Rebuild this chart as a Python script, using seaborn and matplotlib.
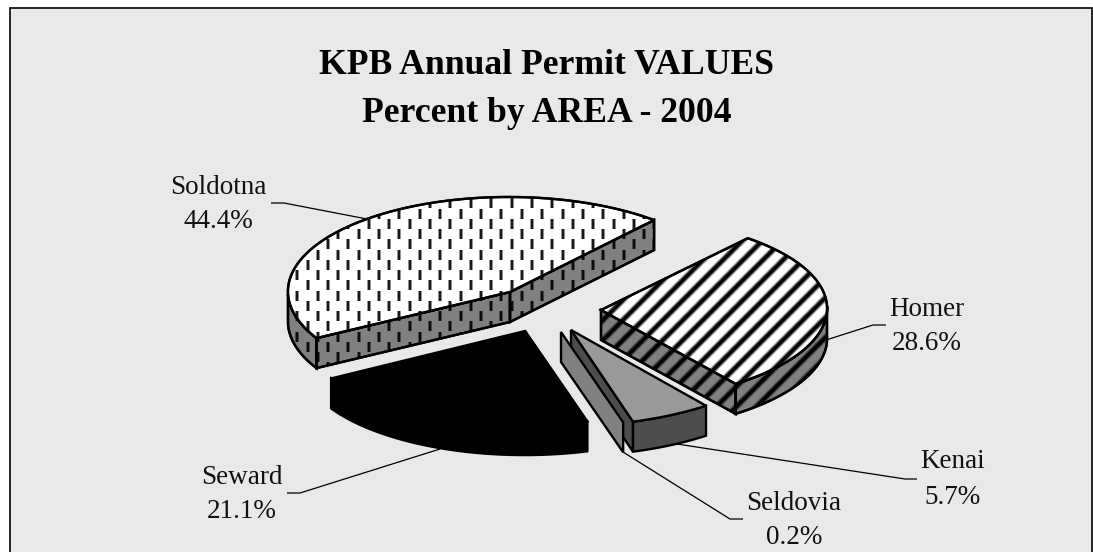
import numpy as np
import matplotlib
matplotlib.use("Agg")
import matplotlib.pyplot as plt
from matplotlib.patches import Polygon, Rectangle
from matplotlib.collections import LineCollection
import seaborn as sns

# ---- data ----
areas = ["Soldotna", "Seward", "Seldovia", "Kenai", "Homer"]
percents = [44.4, 21.1, 0.2, 5.7, 28.6]
title_lines = ["KPB Annual Permit VALUES", "Percent by AREA - 2004"]

sns.set_theme(style="white")
plt.rcParams["font.family"] = ["Liberation Serif", "DejaVu Serif"]

W, H = 1093, 552
fig = plt.figure(figsize=(W / 100, H / 100), dpi=100, facecolor="white")
ax = fig.add_axes([0, 0, 1, 1])
ax.set_xlim(0, W)
ax.set_ylim(H, 0)
ax.axis("off")

BG = "#E9E9E9"
ax.add_patch(Rectangle((9.5, 7.5), W - 10.2, H + 20, fc=BG, ec="black", lw=1.2, zorder=0))

# ---- projected pie geometry ----
START = 48.0
DEPTH = 30
LW = 1.7
MAT = {"Soldotna": (222, -6, -2, -95), "Seward": (224, -9, -4, -94), "Seldovia": (224, -9, -4, -94),
       "Kenai": (228, -5, -5, -96), "Homer": (226, -6, -4, -93)}
APEX = {"Soldotna": (510, 292), "Seward": (525, 331), "Seldovia": (561, 332),
        "Kenai": (571, 330), "Homer": (601, 310)}

total = sum(percents)
spans = {}
a0 = START
for name, v in zip(areas, percents):
    a1 = a0 + v / total * 360
    spans[name] = (a0, a1)
    a0 = a1


def rim(name, t0, t1, n=80):
    t = np.radians(np.linspace(t0, t1, n))
    A, B, C, D = MAT[name]
    ox, oy = APEX[name]
    return np.column_stack([ox + A * np.cos(t) + B * np.sin(t), oy + C * np.cos(t) + D * np.sin(t)])


def wall(pts, fc, z):
    poly = np.vstack([pts, (pts + np.array([0, DEPTH]))[::-1]])
    p = Polygon(poly, closed=True, fc=fc, ec="black", lw=LW, zorder=z, joinstyle="miter")
    ax.add_patch(p)
    return p


def face(name, fc, z):
    t0, t1 = spans[name]
    pts = np.vstack([[APEX[name]], rim(name, t0, t1)])
    p = Polygon(pts, closed=True, fc=fc, ec="black", lw=LW, zorder=z, joinstyle="miter")
    ax.add_patch(p)
    return p


def radial(name, t):
    return np.vstack([[APEX[name]], rim(name, t, t, 1)])


def texture(segs, layers, clip, z):
    for k, (px, alpha) in enumerate(layers):
        lc = LineCollection(segs, colors="black", alpha=alpha, linewidths=px * 0.72,
                            zorder=z + k * 0.01, capstyle="butt")
        ax.add_collection(lc)
        lc.set_clip_path(clip)


def dashes(clip, z):
    segs = []
    sx, sy = 10.2, 20.5
    for i in range(-3, 37):
        x = 297.3 + i * sx
        off = 0 if i % 2 == 0 else sy / 2
        for y in np.arange(167.5 + off, 385, sy):
            segs.append([(x, y), (x, y + 10.0)])
    texture(segs, [(3.8, 0.35), (2.4, 0.85)], clip, z)


def stripes(clip, z):
    step = 20.0
    segs = [[(c - 220, 220), (c - 440, 440)] for c in np.arange(983 - 12 * step, 983 + 18 * step, step)]
    texture(segs, [(7, 0.22), (5.5, 0.38), (4, 0.65), (2.8, 0.85)], clip, z)


def outline(patch, z):
    ax.add_patch(Polygon(patch.get_xy(), closed=True, fc="none", ec="black", lw=LW, zorder=z, joinstyle="miter"))


# Soldotna
t0, t1 = spans["Soldotna"]
z = 2
for pts in [rim("Soldotna", 180, t1), radial("Soldotna", t1), radial("Soldotna", t0)]:
    w = wall(pts, "#808080", z)
    dashes(w, z + 0.1)
    outline(w, z + 0.2)
f = face("Soldotna", "white", z + 0.3)
dashes(f, z + 0.4)
outline(f, z + 0.5)

# Homer
t0, t1 = spans["Homer"]
z = 3
for pts in [radial("Homer", t0), rim("Homer", t0, 360)]:
    w = wall(pts, "#808080", z)
    stripes(w, z + 0.1)
    outline(w, z + 0.2)
f = face("Homer", "white", z + 0.3)
stripes(f, z + 0.4)
outline(f, z + 0.5)

# Seward
t0, t1 = spans["Seward"]
wall(rim("Seward", t0, t1), "black", 4)
face("Seward", "black", 4.1)
wall(radial("Seward", t1), "black", 4)

# Kenai
t0, t1 = spans["Kenai"]
wall(radial("Kenai", t0), "#4D4D4D", 5)
wall(rim("Kenai", t0, t1), "#4D4D4D", 5.1)
face("Kenai", "#999999", 5.2)

# Seldovia
t0, t1 = spans["Seldovia"]
wall(radial("Seldovia", t0), "#808080", 6)

# ---- text ----
ax.text(546.5, 66, title_lines[0], ha="center", va="center", fontsize=25.7, fontweight="bold", color="black", zorder=10)
ax.text(546.5, 114, title_lines[1], ha="center", va="center", fontsize=25.7, fontweight="bold", color="black", zorder=10)

LABEL_POS = {"Soldotna": (218, 187, 222), "Homer": (927, 309, 344), "Kenai": (953, 462, 498),
             "Seldovia": (794, 503, 538), "Seward": (242, 477, 512)}
for name, v in zip(areas, percents):
    x, y1, y2 = LABEL_POS[name]
    ax.text(x, y1, name, ha="center", va="center", fontsize=19.5, color="#111111", zorder=10)
    ax.text(x, y2, f"{v:.1f}%", ha="center", va="center", fontsize=19.5, color="#111111", zorder=10)

LEADERS = [[(271, 203), (284, 203), (367, 219)],
           [(826, 340), (873, 325), (886, 325)],
           [(677, 444), (905, 479), (917, 479)],
           [(623, 452), (730, 519), (743, 519)],
           [(440, 449), (300, 493), (287, 493)]]
for pts in LEADERS:
    xs, ys = zip(*pts)
    ax.plot(xs, ys, color="black", lw=0.9, zorder=1.5, solid_capstyle="butt")

fig.savefig("out.png", dpi=100, facecolor="white")
